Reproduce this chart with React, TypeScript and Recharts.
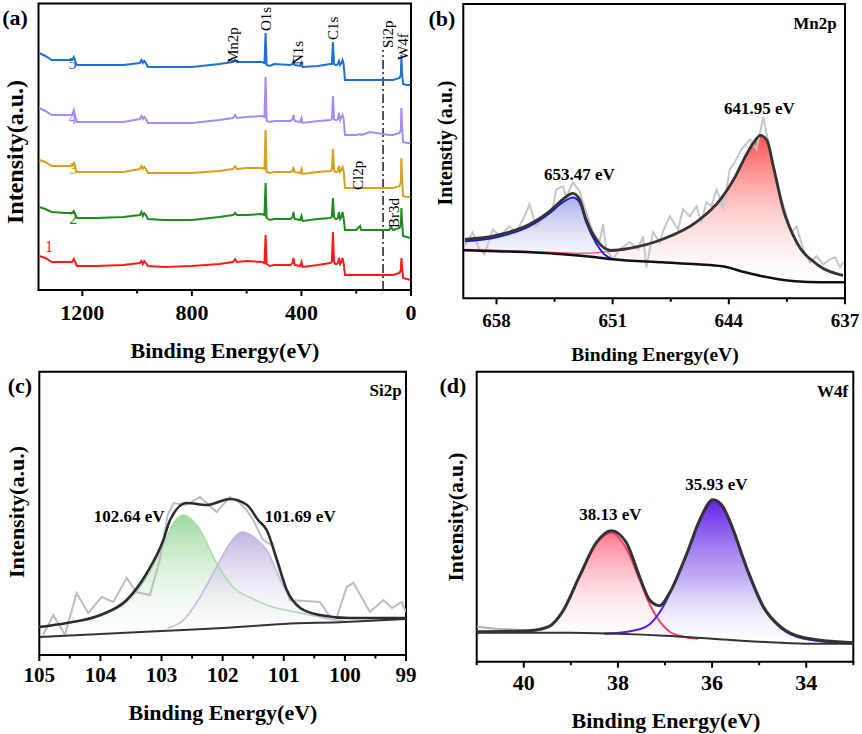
import React from "react";
import {
  Area,
  ComposedChart,
  Line,
  ReferenceArea,
  ReferenceDot,
  ReferenceLine,
  XAxis,
  YAxis,
} from "recharts";

// Four-panel XPS figure: (a) survey spectra of five samples, (b) Mn2p,
// (c) Si2p, (d) W4f high-resolution fits. Values are read off the source
// picture in arbitrary intensity units (height above the frame bottom).

const SERIF = "'Times New Roman', 'Liberation Serif', 'DejaVu Serif', serif";

// ---- (a) survey ----
const surveyE = [1358, 1335, 1312, 1260, 1237, 1231, 1226, 1220, 1150, 1050, 990, 984, 979, 974, 968, 960, 900, 800, 700, 650, 642, 636, 600, 545, 535, 531, 527, 515, 500, 440, 432, 429, 425, 405, 400, 396, 340, 295, 289, 285, 281, 276, 271, 267, 263, 259, 254, 250, 246, 241, 200, 186, 182, 150, 80, 72, 66, 42, 37, 35, 33, 29, 15, 2];
const survey1 = [34, 32, 28, 28, 28, 31, 28, 24, 24, 25, 27, 29, 26, 29, 27, 24, 23, 24, 26, 28, 31, 28, 29, 28, 27, 55, 26, 24, 25, 25, 27, 32, 25, 24, 28, 23, 25, 27, 28, 58, 28, 26, 26, 27, 32, 26, 28, 32, 27, 15, 15, 15, 15, 15, 15, 15, 15, 17, 20, 32, 25, 12, 11, 10];
const survey2 = [83, 81, 78, 77, 77, 79, 76, 72, 72, 73, 75, 78, 74, 77, 75, 71, 70, 70, 73, 75, 77, 75, 75, 76, 75, 107, 72, 70, 71, 71, 73, 78, 71, 70, 74, 69, 71, 72, 73, 92, 73, 71, 71, 72, 78, 71, 73, 78, 72, 60, 60, 64, 60, 60, 60, 63, 60, 62, 65, 82, 70, 54, 53, 52];
const survey3 = [130, 128, 124, 124, 124, 127, 123, 118, 118, 118, 121, 124, 121, 123, 121, 117, 117, 117, 119, 121, 124, 121, 122, 122, 121, 160, 118, 117, 118, 118, 119, 123, 118, 117, 121, 116, 118, 119, 120, 141, 120, 118, 118, 119, 124, 118, 120, 123, 119, 102, 102, 102, 102, 102, 102, 102, 102, 104, 108, 132, 115, 94, 93, 93];
const survey4 = [182, 179, 175, 175, 175, 180, 174, 168, 168, 168, 171, 174, 171, 173, 171, 167, 167, 167, 170, 172, 175, 172, 173, 174, 173, 213, 169, 168, 169, 169, 171, 175, 169, 168, 172, 167, 169, 170, 171, 194, 171, 170, 170, 171, 177, 170, 173, 175, 171, 155, 155, 156, 155, 158, 155, 155, 155, 157, 160, 182, 165, 148, 147, 147];
const survey5 = [237, 234, 230, 230, 230, 233, 229, 225, 225, 225, 227, 230, 227, 229, 227, 223, 223, 223, 226, 228, 230, 228, 228, 228, 227, 257, 225, 224, 226, 225, 226, 229, 225, 224, 227, 223, 224, 226, 226, 248, 226, 225, 225, 226, 229, 225, 227, 230, 226, 210, 210, 210, 210, 210, 210, 210, 210, 212, 215, 235, 218, 206, 205, 205];
const surveyTicks = [1200, 1000, 800, 600, 400, 200, 0];
const surveyMajor = [1200, 800, 400, 0];
const surveyTags = [
  { text: "Mn2p", e: 649, v: 227 },
  { text: "O1s", e: 529, v: 259 },
  { text: "N1s", e: 412, v: 225 },
  { text: "C1s", e: 284, v: 250 },
  { text: "Si2p", e: 84, v: 242 },
  { text: "W4f", e: 29, v: 230 },
  { text: "Cl2p", e: 193, v: 100 },
  { text: "Br3d", e: 62, v: 62 },
];
const sampleTags = [
  { text: "5", e: 1236, v: 227 },
  { text: "4", e: 1236, v: 172 },
  { text: "3", e: 1233, v: 122 },
  { text: "2", e: 1233, v: 72 },
  { text: "1", e: 1322, v: 44 },
];

// ---- (b) Mn2p ----
const mnRawE = [659.93, 659.43, 659.03, 658.72, 658.22, 657.82, 657.22, 656.81, 656.31, 656.01, 655.61, 655.1, 654.6, 654.4, 654.0, 653.8, 653.4, 652.99, 652.79, 652.19, 651.78, 651.58, 651.38, 650.98, 650.58, 649.97, 649.47, 649.17, 648.97, 648.57, 648.16, 647.96, 647.56, 647.06, 646.76, 646.35, 645.95, 645.65, 645.35, 645.05, 644.74, 644.34, 643.94, 643.64, 643.24, 642.73, 642.33, 641.93, 641.53, 641.12, 640.82, 640.52, 640.22, 639.92, 639.52, 639.11, 638.71, 638.31, 637.91, 637.6, 637.3, 637.1];
const mnRawV = [52, 66, 49, 44, 69, 62, 72, 66, 82, 94, 72, 82, 91, 109, 112, 101, 116, 107, 96, 66, 57, 74, 49, 39, 49, 56, 49, 62, 31, 66, 56, 67, 82, 69, 89, 82, 92, 76, 96, 92, 109, 91, 129, 136, 149, 159, 149, 181, 149, 119, 99, 82, 66, 72, 49, 36, 42, 34, 39, 41, 31, 36];
const mnFitE = [659.9, 658.0, 656.0, 654.8, 654.0, 653.4, 653.0, 652.6, 652.0, 651.1, 650.0, 648.0, 645.9, 644.5, 643.6, 643.0, 642.5, 642.1, 641.7, 641.32, 640.72, 639.91, 638.69, 637.12];
const mnFitV = [59, 63, 74, 87, 99, 105, 99, 79, 59, 48, 50, 59, 77, 99, 122, 142, 156, 163, 158, 132, 89, 56, 34, 23];
const mnBgE = [660, 658, 656, 654, 652, 651, 648, 645.9, 644.4, 643, 642, 641, 640, 638.5, 637];
const mnBgV = [48, 47, 46, 44, 41, 39, 36, 34, 32, 26, 22, 19, 17, 16, 16];
const mn2p12E = [659.9, 658.0, 656.0, 654.8, 654.0, 653.4, 653.0, 652.6, 652.0, 651.5, 651.0];
const mn2p12Top = [57, 61, 72, 85, 96, 101, 96, 76, 55, 44, 39];
const mn2p12Base = [48, 47, 46, 45, 44, 43, 43, 42, 41, 40, 39];
const mn2p32E = [659.9, 656.0, 653.0, 651.1, 650.0, 648.0, 645.9, 644.5, 643.6, 643.0, 642.5, 642.1, 641.7, 641.32, 640.72, 639.91, 638.69, 637.12];
const mn2p32Top = [49, 47, 45, 47, 50, 59, 77, 99, 122, 142, 156, 163, 158, 132, 89, 56, 34, 23];
const mn2p32Base = [48, 46, 43, 39, 38, 36, 34, 32, 29, 26, 24, 22, 21, 20, 18, 17, 16, 16];
const mnTicks = [658, 654.5, 651, 647.5, 644, 640.5, 637];
const mnMajor = [658, 651, 644, 637];

// ---- (c) Si2p ----
const siRawE = [104.94, 104.77, 104.58, 104.39, 104.2, 103.98, 103.79, 103.57, 103.41, 103.19, 103.03, 102.9, 102.8, 102.6, 102.37, 102.1, 101.88, 101.72, 101.61, 101.5, 101.34, 101.2, 101.06, 100.9, 100.41, 100.24, 100.13, 99.97, 99.86, 99.59, 99.37, 99.23, 99.07, 99.0];
const siRawV = [20, 40, 20, 62, 42, 58, 53, 77, 63, 60, 95, 140, 152, 150, 158, 143, 158, 152, 145, 135, 115, 110, 82, 55, 53, 38, 38, 68, 72, 43, 55, 47, 53, 43];
const siFitE = [105.0, 104.55, 104.0, 103.57, 103.24, 102.97, 102.86, 102.59, 102.26, 101.88, 101.6, 101.42, 101.28, 101.11, 100.95, 100.73, 100.41, 99.92, 99.0];
const siFitV = [28, 32, 40, 55, 82, 115, 135, 152, 150, 156, 150, 135, 125, 95, 65, 47, 40, 37, 37];
const siBgE = [105, 104, 103, 102, 101, 100, 99];
const siBgV = [18, 21, 24, 27, 31, 33, 36];
const siAE = [105.0, 104.55, 104.0, 103.57, 103.24, 102.97, 102.8, 102.64, 102.4, 102.1, 101.83, 101.5, 101.28, 100.73, 100.3];
const siATop = [28, 32, 39, 53, 78, 110, 132, 140, 128, 92, 68, 56, 50, 42, 37];
const siABase = [18, 20, 21, 22, 23, 24, 25, 25, 26, 27, 28, 29, 30, 32, 34];
const siBE = [102.9, 102.64, 102.37, 102.1, 101.9, 101.67, 101.45, 101.28, 101.0, 100.73, 100.41, 100.0];
const siBTop = [27, 35, 58, 88, 110, 123, 116, 105, 68, 48, 38, 34];
const siBBase = [24, 25, 26, 27, 28, 28, 29, 30, 31, 32, 33, 33];
const siTicks = [105, 104.5, 104, 103.5, 103, 102.5, 102, 101.5, 101, 100.5, 100, 99.5, 99];
const siMajor = [105, 104, 103, 102, 101, 100, 99];

// ---- (d) W4f ----
const wRawE = [41.0, 40.6, 40.2, 39.8, 39.6];
const wRawV = [35, 33, 32, 31, 32];
const wFitE = [41.0, 39.9, 39.47, 39.19, 38.82, 38.46, 38.14, 37.82, 37.54, 37.33, 37.11, 36.9, 36.53, 36.26, 35.98, 35.77, 35.61, 35.25, 34.91, 34.55, 34.05, 33.0];
const wFitV = [30, 31, 35, 49, 85, 119, 131, 119, 85, 62, 56, 69, 109, 142, 162, 155, 139, 92, 55, 35, 24, 19];
const wBgE = [41, 39, 38, 37, 36, 35, 34, 33];
const wBgV = [29, 29, 28, 26, 23, 20, 18, 18];
const w52E = [41.0, 39.9, 39.47, 39.19, 38.82, 38.46, 38.14, 37.82, 37.54, 37.33, 37.18, 36.9, 36.61, 36.3];
const w52Top = [30, 31, 35, 49, 85, 118, 129, 113, 82, 58, 45, 30, 25, 23];
const w52Base = [29, 29, 29, 29, 28, 28, 28, 27, 27, 26, 26, 25, 24, 23];
const w72E = [38.3, 37.8, 37.4, 37.04, 36.68, 36.53, 36.26, 35.98, 35.77, 35.61, 35.25, 34.91, 34.55, 34.05, 33.0];
const w72Top = [28, 30, 35, 55, 92, 108, 141, 161, 154, 138, 91, 54, 34, 23, 18];
const w72Base = [28, 27, 27, 26, 25, 24, 24, 23, 22, 22, 21, 19, 19, 18, 18];
const wTicks = [41, 40, 39, 38, 37, 36, 35, 34, 33];
const wMajor = [40, 38, 36, 34];

const pts = (xs: number[], ys: number[]) => xs.map((e, i) => ({ e, v: ys[i] }));
const band = (xs: number[], base: number[], top: number[]) =>
  xs.map((e, i) => ({ e, b: base[i], t: top[i] }));
const range = (d: any) => [d.b, d.t];

const surveyColors = ["#ff1a1a", "#1f8a1f", "#d6a11c", "#a78bf5", "#1f6fd6"];
const surveySeries = [survey1, survey2, survey3, survey4, survey5];

function axisTicks(major: number[], size: number, dy: number) {
  return (p: any) => {
    const v = p.payload?.value;
    const isMajor = major.some((m) => Math.abs(m - v) < 1e-6);
    return (
      <g>
        <line x1={p.x} x2={p.x} y1={p.y} y2={p.y + (isMajor ? 6 : 3.5)} stroke="#000" strokeWidth={2} />
        {isMajor ? (
          <text x={p.x} y={p.y + dy} textAnchor="middle" dominantBaseline="central" fontSize={size} fontWeight="bold" fontFamily={SERIF} fill="#000">
            {v}
          </text>
        ) : null}
      </g>
    );
  };
}

type TagOpts = { size?: number; bold?: boolean; color?: string; rotate?: boolean; anchor?: "start" | "middle" | "end" };
function tag(text: string, o: TagOpts = {}) {
  return (props: any) => {
    const vb = props.viewBox || {};
    const x = (vb.x ?? 0) + (vb.width ?? 0) / 2;
    const y = (vb.y ?? 0) + (vb.height ?? 0) / 2;
    return (
      <text
        x={x}
        y={y}
        fill={o.color ?? "#000"}
        fontSize={o.size ?? 17}
        fontWeight={o.bold ? "bold" : "normal"}
        fontFamily={SERIF}
        textAnchor={o.rotate ? "start" : o.anchor ?? "middle"}
        dominantBaseline="central"
        transform={o.rotate ? `rotate(-90 ${x} ${y})` : undefined}
      >
        {text}
      </text>
    );
  };
}

function Frame({ x, y }: { x: [number, number]; y: [number, number] }) {
  return null as any;
}

function SurveyPanel() {
  return (
    <ComposedChart width={430} height={365} margin={{ top: 3.5, right: 19, bottom: 0, left: 38.5 }}>
      <XAxis type="number" dataKey="e" domain={[0, 1360]} reversed allowDataOverflow ticks={surveyTicks} interval={0} tickLine={false} axisLine={false} tickSize={0} tickMargin={0} height={75} tick={axisTicks(surveyMajor, 22, 22)} />
      <YAxis type="number" domain={[0, 286.5]} hide allowDataOverflow />
      <ReferenceLine segment={[{ x: 102, y: 0 }, { x: 102, y: 240 }]} stroke="#1c1c3a" strokeWidth={1.5} strokeDasharray="9 3 2 3" />
      {surveySeries.map((s, i) => (
        <Line key={i} data={pts(surveyE, s)} dataKey="v" type="linear" stroke={surveyColors[i]} strokeWidth={2} dot={false} isAnimationActive={false} />
      ))}
      {surveyTags.map((t) => (
        <ReferenceDot key={t.text} x={t.e} y={t.v} r={0} fill="none" stroke="none" label={tag(t.text, { size: 15, rotate: true })} />
      ))}
      {sampleTags.map((t, i) => (
        <ReferenceDot key={"s" + t.text} x={t.e} y={t.v} r={0} fill="none" stroke="none" label={tag(t.text, { size: 16, color: surveyColors[4 - i] })} />
      ))}
      <ReferenceArea x1={0} x2={1360} y1={0} y2={286.5} fill="none" stroke="#000" strokeWidth={2} ifOverflow="visible" />
    </ComposedChart>
  );
}

function MnPanel() {
  return (
    <ComposedChart width={432} height={370} margin={{ top: 4, right: 17, bottom: 0, left: 33.3 }}>
      <defs>
        <linearGradient id="mnRed" x1="0" y1="0" x2="0" y2="1">
          <stop offset="0%" stopColor="#ff3b3b" stopOpacity={0.9} />
          <stop offset="100%" stopColor="#ffffff" stopOpacity={0.2} />
        </linearGradient>
        <linearGradient id="mnBlue" x1="0" y1="0" x2="0" y2="1">
          <stop offset="0%" stopColor="#8f95e0" stopOpacity={0.75} />
          <stop offset="100%" stopColor="#f0f0fb" stopOpacity={0.4} />
        </linearGradient>
      </defs>
      <XAxis type="number" dataKey="e" domain={[637, 660]} reversed allowDataOverflow ticks={mnTicks} interval={0} tickLine={false} axisLine={false} tickSize={0} tickMargin={0} height={71.7} tick={axisTicks(mnMajor, 19, 22)} />
      <YAxis type="number" domain={[0, 294.3]} hide allowDataOverflow />
      <Area data={band(mn2p32E, mn2p32Base, mn2p32Top)} dataKey={range} type="monotone" stroke="none" fill="url(#mnRed)" fillOpacity={1} isAnimationActive={false} />
      <Area data={band(mn2p12E, mn2p12Base, mn2p12Top)} dataKey={range} type="monotone" stroke="none" fill="url(#mnBlue)" fillOpacity={1} isAnimationActive={false} />
      <Line data={pts(mnRawE, mnRawV)} dataKey="v" type="linear" stroke="#c6c6c6" strokeWidth={2} dot={false} isAnimationActive={false} />
      <Line data={pts(mn2p32E, mn2p32Top)} dataKey="v" type="monotone" stroke="#ff4d6a" strokeWidth={1.2} dot={false} isAnimationActive={false} />
      <Line data={pts(mn2p12E, mn2p12Top)} dataKey="v" type="monotone" stroke="#1414d2" strokeWidth={1.8} dot={false} isAnimationActive={false} />
      <Line data={pts(mnBgE, mnBgV)} dataKey="v" type="monotone" stroke="#111" strokeWidth={2.5} dot={false} isAnimationActive={false} />
      <Line data={pts(mnFitE, mnFitV)} dataKey="v" type="monotone" stroke="#333" strokeWidth={2.8} dot={false} isAnimationActive={false} />
      <ReferenceDot x={642.16} y={190} r={0} fill="none" stroke="none" label={tag("641.95 eV", { bold: true })} />
      <ReferenceDot x={653.0} y={124} r={0} fill="none" stroke="none" label={tag("653.47 eV", { bold: true })} />
      <ReferenceDot x={637.5} y={275} r={0} fill="none" stroke="none" label={tag("Mn2p", { bold: true, anchor: "end" })} />
      <ReferenceArea x1={637} x2={660} y1={0} y2={294.3} fill="none" stroke="#000" strokeWidth={2} ifOverflow="visible" />
    </ComposedChart>
  );
}

function SiPanel() {
  return (
    <ComposedChart width={430} height={369} margin={{ top: 6.7, right: 24, bottom: 0, left: 39.3 }}>
      <defs>
        <linearGradient id="siGreen" x1="0" y1="0" x2="0" y2="1">
          <stop offset="0%" stopColor="#86d086" stopOpacity={0.8} />
          <stop offset="100%" stopColor="#ffffff" stopOpacity={0.2} />
        </linearGradient>
        <linearGradient id="siPurple" x1="0" y1="0" x2="0" y2="1">
          <stop offset="0%" stopColor="#b6a6da" stopOpacity={0.85} />
          <stop offset="100%" stopColor="#ffffff" stopOpacity={0.2} />
        </linearGradient>
      </defs>
      <XAxis type="number" dataKey="e" domain={[99, 105]} reversed allowDataOverflow ticks={siTicks} interval={0} tickLine={false} axisLine={false} tickSize={0} tickMargin={0} height={79} tick={axisTicks(siMajor, 21, 20)} />
      <YAxis type="number" domain={[0, 283.3]} hide allowDataOverflow />
      <Area data={band(siAE, siABase, siATop)} dataKey={range} type="monotone" stroke="none" fill="url(#siGreen)" fillOpacity={1} isAnimationActive={false} />
      <Area data={band(siBE, siBBase, siBTop)} dataKey={range} type="monotone" stroke="none" fill="url(#siPurple)" fillOpacity={1} isAnimationActive={false} />
      <Line data={pts(siAE, siATop)} dataKey="v" type="monotone" stroke="#a9dca9" strokeWidth={1.5} dot={false} isAnimationActive={false} />
      <Line data={pts(siBE, siBTop)} dataKey="v" type="monotone" stroke="#c2b4e4" strokeWidth={1.5} dot={false} isAnimationActive={false} />
      <Line data={pts(siRawE, siRawV)} dataKey="v" type="linear" stroke="#bdbdbd" strokeWidth={2} dot={false} isAnimationActive={false} />
      <Line data={pts(siBgE, siBgV)} dataKey="v" type="monotone" stroke="#333" strokeWidth={2} dot={false} isAnimationActive={false} />
      <Line data={pts(siFitE, siFitV)} dataKey="v" type="monotone" stroke="#2b2b2b" strokeWidth={2.5} dot={false} isAnimationActive={false} />
      <ReferenceDot x={103.53} y={139} r={0} fill="none" stroke="none" label={tag("102.64 eV", { bold: true })} />
      <ReferenceDot x={100.73} y={139} r={0} fill="none" stroke="none" label={tag("101.69 eV", { bold: true })} />
      <ReferenceDot x={99.07} y={265} r={0} fill="none" stroke="none" label={tag("Si2p", { bold: true, anchor: "end" })} />
      <ReferenceArea x1={99} x2={105} y1={0} y2={283.3} fill="none" stroke="#000" strokeWidth={2} ifOverflow="visible" />
    </ComposedChart>
  );
}

function WPanel() {
  return (
    <ComposedChart width={432} height={364} margin={{ top: 1.7, right: 8.7, bottom: 0, left: 46.7 }}>
      <defs>
        <linearGradient id="wRed" x1="0" y1="0" x2="0" y2="1">
          <stop offset="0%" stopColor="#ff6b82" stopOpacity={0.9} />
          <stop offset="100%" stopColor="#ffffff" stopOpacity={0.2} />
        </linearGradient>
        <linearGradient id="wPurple" x1="0" y1="0" x2="0" y2="1">
          <stop offset="0%" stopColor="#6422e6" stopOpacity={1} />
          <stop offset="55%" stopColor="#a88cf2" stopOpacity={0.7} />
          <stop offset="100%" stopColor="#ffffff" stopOpacity={0.2} />
        </linearGradient>
      </defs>
      <XAxis type="number" dataKey="e" domain={[33, 41]} reversed allowDataOverflow ticks={wTicks} interval={0} tickLine={false} axisLine={false} tickSize={0} tickMargin={0} height={72.3} tick={axisTicks(wMajor, 22, 21)} />
      <YAxis type="number" domain={[0, 290]} hide allowDataOverflow />
      <Area data={band(w52E, w52Base, w52Top)} dataKey={range} type="monotone" stroke="none" fill="url(#wRed)" fillOpacity={1} isAnimationActive={false} />
      <Area data={band(w72E, w72Base, w72Top)} dataKey={range} type="monotone" stroke="none" fill="url(#wPurple)" fillOpacity={1} isAnimationActive={false} />
      <Line data={pts(wRawE, wRawV)} dataKey="v" type="linear" stroke="#b0b0b0" strokeWidth={2} dot={false} isAnimationActive={false} />
      <Line data={pts(w52E, w52Top)} dataKey="v" type="monotone" stroke="#ff3d5e" strokeWidth={2} dot={false} isAnimationActive={false} />
      <Line data={pts(w72E, w72Top)} dataKey="v" type="monotone" stroke="#5a22d8" strokeWidth={2} dot={false} isAnimationActive={false} />
      <Line data={pts(wBgE, wBgV)} dataKey="v" type="monotone" stroke="#333" strokeWidth={2} dot={false} isAnimationActive={false} />
      <Line data={pts(wFitE, wFitV)} dataKey="v" type="monotone" stroke="#333" strokeWidth={3} dot={false} isAnimationActive={false} />
      <ReferenceDot x={38.16} y={147} r={0} fill="none" stroke="none" label={tag("38.13 eV", { bold: true })} />
      <ReferenceDot x={35.91} y={177} r={0} fill="none" stroke="none" label={tag("35.93 eV", { bold: true })} />
      <ReferenceDot x={33.11} y={270} r={0} fill="none" stroke="none" label={tag("W4f", { bold: true, anchor: "end" })} />
      <ReferenceArea x1={33} x2={41} y1={0} y2={290} fill="none" stroke="#000" strokeWidth={2} ifOverflow="visible" />
    </ComposedChart>
  );
}

function Title({ x, y, size, rotate, children }: { x: number; y: number; size: number; rotate?: boolean; children: React.ReactNode }) {
  return (
    <text x={x} y={y} fontSize={size} fontWeight="bold" fontFamily={SERIF} textAnchor="middle" dominantBaseline="central" fill="#000" transform={rotate ? `rotate(-90 ${x} ${y})` : undefined}>
      {children}
    </text>
  );
}

export default function App() {
  return (
    <div style={{ position: "absolute", left: 0, top: 0, width: 862, height: 734, background: "#fff", overflow: "hidden" }}>
      <div style={{ position: "absolute", left: 0, top: 0 }}>
        <SurveyPanel />
      </div>
      <div style={{ position: "absolute", left: 430, top: 0 }}>
        <MnPanel />
      </div>
      <div style={{ position: "absolute", left: 0, top: 365 }}>
        <SiPanel />
      </div>
      <div style={{ position: "absolute", left: 430, top: 370 }}>
        <WPanel />
      </div>
      <svg width={862} height={734} style={{ position: "absolute", left: 0, top: 0, pointerEvents: "none" }}>
        <Title x={15} y={17} size={22}>(a)</Title>
        <Title x={442} y={18} size={22}>(b)</Title>
        <Title x={20} y={385} size={22}>(c)</Title>
        <Title x={453} y={385} size={22}>(d)</Title>
        <Title x={225} y={350} size={22}>Binding Energy(eV)</Title>
        <Title x={655} y={354} size={19.5}>Binding Energy(eV)</Title>
        <Title x={223} y={712} size={22}>Binding Energy(eV)</Title>
        <Title x={666} y={720} size={22}>Binding Energy(eV)</Title>
        <Title x={15} y={152} size={24} rotate>Intensity(a.u.)</Title>
        <Title x={445} y={143} size={20} rotate>Intenstiy (a.u.)</Title>
        <Title x={16} y={512} size={22} rotate>Intensity(a.u.)</Title>
        <Title x={456} y={517} size={21.5} rotate>Intensity(a.u.)</Title>
      </svg>
    </div>
  );
}
